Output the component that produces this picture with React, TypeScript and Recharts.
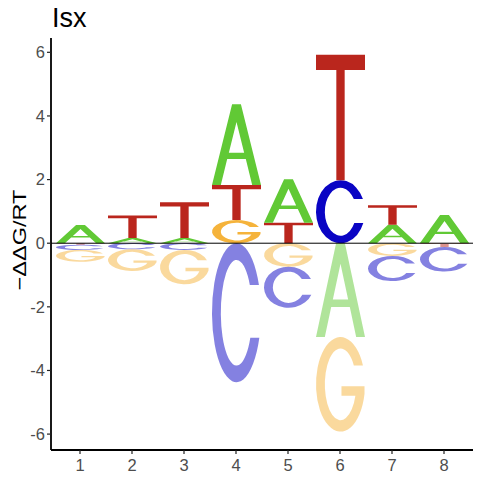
import { BarChart, Bar, XAxis, YAxis, ReferenceLine } from "recharts";

// sequence positions and per-letter energy contributions (-ddG/RT)
const positions = ["1", "2", "3", "4", "5", "6", "7", "8"];
const letters = ["A", "C", "G", "T"];
const valuesA = [0.57, 0.16, 0.16, 2.54, 1.37, -2.95, 0.58, 0.88];
const valuesC = [-0.16, -0.19, -0.21, -4.37, -1.29, 1.98, -0.79, -0.77];
const valuesG = [-0.37, -0.68, -1.08, 0.73, -0.74, -2.97, -0.4, 0.01];
const valuesT = [-0.05, 0.71, 1.13, 1.1, 0.64, 3.94, 0.61, -0.12];
const yTicks = [-6, -4, -2, 0, 2, 4, 6];

const byLetter: Record<string, number[]> = {
  A: valuesA,
  C: valuesC,
  G: valuesG,
  T: valuesT,
};

const colors: Record<string, string> = {
  A: "#61C935",
  C: "#0A04C4",
  G: "#F5B33B",
  T: "#BA261D",
};

// glyph outlines in a unit box, stretched to each stacked segment
const glyphs: Record<string, string> = {
  A: "M0,1 L0.41,0 L0.59,0 L1,1 L0.82,1 L0.69,0.68 L0.31,0.68 L0.18,1 Z M0.344,0.6 L0.656,0.6 L0.5,0.22 Z",
  T: "M0,0 H1 V0.12 H0.585 V1 H0.415 V0.12 H0 Z",
  C: "M0.958,0.3 A0.5,0.5 0 1 0 0.966,0.68 L0.782,0.68 A0.32,0.38 0 1 1 0.772,0.3 Z",
  G: "M0.958,0.3 A0.5,0.5 0 1 0 0.99,0.6 L0.99,0.52 L0.52,0.52 L0.52,0.62 L0.804,0.62 A0.32,0.38 0 1 1 0.772,0.3 Z",
};

const SLOTS = 4;

const chartData = positions.map((pos, i) => {
  const entries = letters.map((l) => ({ letter: l, value: byLetter[l][i] }));
  const up = entries.filter((e) => e.value > 0).sort((a, b) => a.value - b.value);
  const down = entries.filter((e) => e.value < 0).sort((a, b) => b.value - a.value);
  const row: Record<string, any> = { pos };
  for (let k = 0; k < SLOTS; k++) {
    row[`p${k}`] = up[k] ? up[k].value : 0;
    row[`pl${k}`] = up[k] ? up[k].letter : null;
    row[`n${k}`] = down[k] ? down[k].value : 0;
    row[`nl${k}`] = down[k] ? down[k].letter : null;
  }
  return row;
});

function letterShape(slot: string, negative: boolean) {
  return (props: any) => {
    const { x, y, width, height, payload } = props;
    const letter = payload ? payload[slot] : null;
    if (!letter) return null;
    const top = Math.min(y, y + height);
    const h = Math.abs(height);
    if (!(h > 0.1)) return null;
    return (
      <path
        d={glyphs[letter]}
        fill={colors[letter]}
        fillOpacity={negative ? 0.5 : 1}
        fillRule="evenodd"
        transform={`translate(${x},${top}) scale(${width},${h})`}
      />
    );
  };
}

const tickStyle = { fontSize: 16.5, fill: "#4D4D4D", fontFamily: "Liberation Sans, Arial, sans-serif" };

export default function App() {
  const slots = Array.from({ length: SLOTS }, (_, k) => k);
  return (
    <div style={{ position: "absolute", left: 0, top: 0, width: 480, height: 480, background: "#fff" }}>
      <BarChart
        width={480}
        height={480}
        data={chartData}
        stackOffset="sign"
        margin={{ top: 38, right: 7, bottom: 0, left: 0 }}
      >
        <XAxis
          dataKey="pos"
          type="category"
          padding={{ left: 3, right: 3 }}
          height={30}
          tickSize={4}
          tickMargin={5}
          tick={tickStyle}
          axisLine={{ stroke: "#000", strokeWidth: 1.8 }}
          tickLine={{ stroke: "#222", strokeWidth: 1.2 }}
        />
        <YAxis
          type="number"
          domain={[-6.5, 6.45]}
          ticks={yTicks}
          width={51}
          tickSize={4}
          tickMargin={2}
          tick={tickStyle}
          axisLine={{ stroke: "#000", strokeWidth: 1.8 }}
          tickLine={{ stroke: "#222", strokeWidth: 1.2 }}
        />
        {slots.map((k) => (
          <Bar
            key={`p${k}`}
            dataKey={`p${k}`}
            stackId="s"
            barSize={49}
            isAnimationActive={false}
            shape={letterShape(`pl${k}`, false)}
          />
        ))}
        {slots.map((k) => (
          <Bar
            key={`n${k}`}
            dataKey={`n${k}`}
            stackId="s"
            barSize={49}
            isAnimationActive={false}
            shape={letterShape(`nl${k}`, true)}
          />
        ))}
        <ReferenceLine y={0} stroke="#000" strokeWidth={1} />
      </BarChart>
      <svg
        width={480}
        height={480}
        style={{ position: "absolute", left: 0, top: 0, pointerEvents: "none" }}
        fontFamily="Liberation Sans, Arial, sans-serif"
      >
        <text x={52} y={27} fontSize={27} fill="#000">
          Isx
        </text>
        <text
          transform="translate(25.5,240) rotate(-90)"
          textAnchor="middle"
          fontSize={19}
          fill="#000"
          textLength={101}
          lengthAdjust="spacingAndGlyphs"
        >
          −ΔΔG/RT
        </text>
      </svg>
    </div>
  );
}
